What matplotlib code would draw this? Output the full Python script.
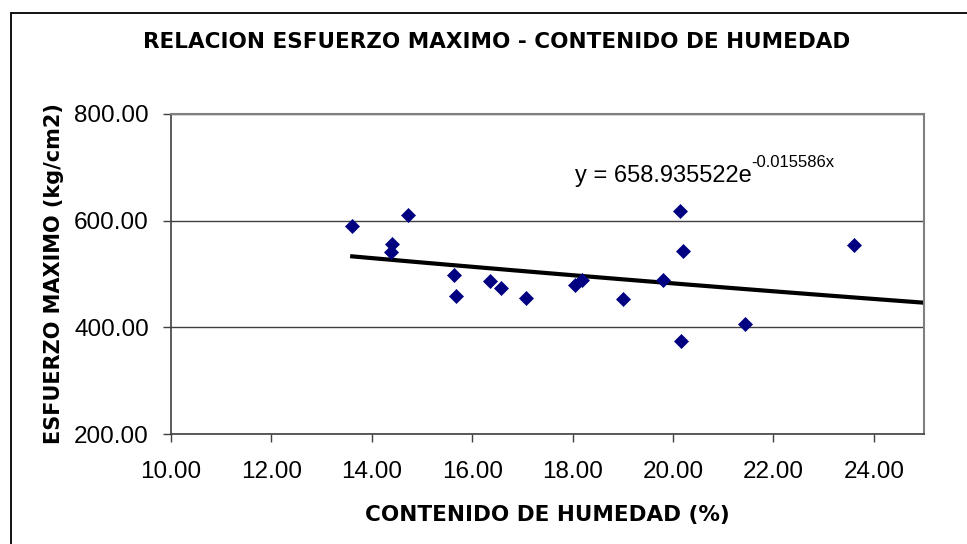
import numpy as np
import matplotlib
matplotlib.use('Agg')
import matplotlib.pyplot as plt
from matplotlib.patches import Rectangle
from matplotlib.transforms import offset_copy

plt.rcParams['font.family'] = ['Liberation Sans', 'DejaVu Sans']

# humedad (%) y esfuerzo maximo (kg/cm2)
humedad = [13.61, 14.73, 14.40, 14.39, 15.64, 15.67, 16.36, 16.57, 17.08,
           18.05, 18.19, 19.00, 20.13, 20.20, 19.80, 21.44, 20.16, 23.61]
esfuerzo = [590, 610, 556, 541, 498, 459, 486, 473, 455,
            480, 489, 453, 618, 543, 488, 407, 375, 554]

a_fit = 658.935522
b_fit = -0.015586
xticks = [10, 12, 14, 16, 18, 20, 22, 24]
yticks = [200, 400, 600, 800]

W, H = 967, 544
fig = plt.figure(figsize=(W/100, H/100), dpi=100)
fig.patch.set_facecolor('white')

# marco exterior del grafico
fig.patches.append(Rectangle((11/W, -0.1), 1.2, 1.1 - 13/H, transform=fig.transFigure,
                             fill=False, edgecolor='black', lw=1.3))

ax = fig.add_axes([171/W, 1 - 434.3/H, (924 - 171)/W, (434.3 - 113.7)/H])

xx = np.linspace(min(humedad), 25, 100)
ax.plot(xx, a_fit*np.exp(b_fit*xx), color='black', lw=3, zorder=2)
ax.plot(humedad, esfuerzo, ls='none', marker='D', ms=7.2, color='#000080',
        mec='#000080', mew=0.5, zorder=3, clip_on=False)

ax.set_xlim(10, 25)
ax.set_ylim(200, 800)
ax.set_xticks(xticks)
ax.set_yticks(yticks)
ax.set_xticklabels(['%.2f' % v for v in xticks])
ax.set_yticklabels(['%.2f' % v for v in yticks])
ax.tick_params(direction='out', length=6, width=1, color='#404040', labelsize=17.5)
ax.tick_params(axis='x', pad=13)
ax.tick_params(axis='y', pad=10)
ax.yaxis.grid(True, color='#404040', lw=1)
ax.set_axisbelow(True)
for s in ['left', 'bottom']:
    ax.spines[s].set_color('#404040')
    ax.spines[s].set_linewidth(1.2)
for s in ['top', 'right']:
    ax.spines[s].set_color('#808080')
    ax.spines[s].set_linewidth(1.5)

# ecuacion de la linea de tendencia (exponente como superindice)
eq = ax.text(18.04, 672, 'y = %.6fe' % a_fit, fontsize=17, va='baseline', ha='left')
fig.canvas.draw()
bb = eq.get_window_extent()
x_end = ax.transData.inverted().transform((bb.x1, 0))[0]
ax.text(x_end, 672, '%.6fx' % b_fit, fontsize=12, va='baseline', ha='left',
        transform=offset_copy(ax.transData, fig=fig, x=0, y=15, units='dots'))

bold_font = ['DejaVu Sans']
fig.text(497/W, 1 - 42/H, 'RELACION ESFUERZO MAXIMO - CONTENIDO DE HUMEDAD',
         fontsize=15.5, fontweight='bold', family=bold_font, ha='center', va='center')
ax.set_xlabel('CONTENIDO DE HUMEDAD (%)', fontsize=15.5, fontweight='bold',
              family=bold_font, labelpad=16)
ax.set_ylabel('ESFUERZO MAXIMO (kg/cm2)', fontsize=15, fontweight='bold',
              family=bold_font, labelpad=7)

fig.savefig('out.png', dpi=100)
